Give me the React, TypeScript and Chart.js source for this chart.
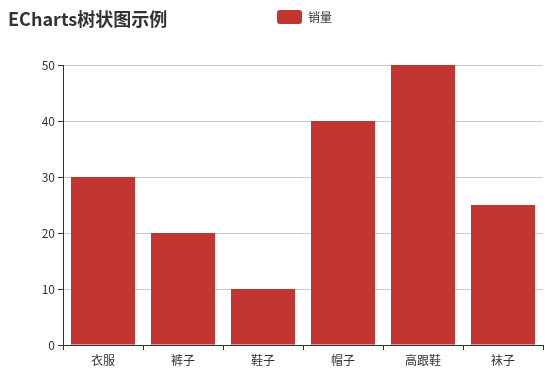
import React, { useEffect, useRef } from "react";
import { Chart, registerables } from "chart.js";

Chart.register(...registerables);

const titleText = "ECharts树状图示例";
const seriesName = "销量";
const categories = ["衣服", "裤子", "鞋子", "帽子", "高跟鞋", "袜子"];
const salesValues = [30, 20, 10, 40, 50, 25];
const yMin = 0;
const yMax = 50;
const yStep = 10;

const FONT = '"Microsoft YaHei", "Noto Sans CJK SC", "Noto Sans", sans-serif';
const BAR_COLOR = "#c23531";
const LEGEND_PAD = 11.5;
const LEGEND_BOX_LEFT = 277;

export default function App() {
  const ref = useRef<HTMLCanvasElement | null>(null);

  useEffect(() => {
    if (!ref.current) return;
    const legendMover = {
      id: "legendMover",
      afterLayout(chart: any) {
        const lg = chart.legend;
        if (!lg || !lg.lineWidths) return;
        const p = LEGEND_PAD;
        const h = lg.bottom - lg.top;
        lg.top = 10 - p;
        lg.bottom = lg.top + h;
        const lw = lg.lineWidths[0];
        const d = (2 * LEGEND_BOX_LEFT - p + lw - (lg.left + lg.right)) / 2;
        lg.left += d;
        lg.right += d;
      },
    };
    const chart = new Chart(ref.current, {
      type: "bar",
      data: {
        labels: categories,
        datasets: [
          {
            label: seriesName,
            data: salesValues,
            backgroundColor: BAR_COLOR,
            borderWidth: 0,
            barPercentage: 0.8,
            categoryPercentage: 1.0,
          },
        ],
      },
      options: {
        responsive: false,
        animation: false,
        devicePixelRatio: 1,
        layout: { padding: { left: 8, right: 9, top: 0, bottom: 0 } },
        plugins: {
          title: {
            display: true,
            text: titleText,
            align: "start",
            position: "top",
            color: "#333",
            font: { family: FONT, size: 18, weight: "bold" },
            padding: { top: 8, bottom: 0 },
          },
          legend: {
            display: true,
            position: "top",
            align: "center",
            labels: {
              boxWidth: 25,
              boxHeight: 14,
              useBorderRadius: true,
              borderRadius: 3,
              padding: LEGEND_PAD,
              color: "#333",
              font: { family: FONT, size: 12 },
            },
          },
          tooltip: { enabled: false },
        },
        scales: {
          x: {
            type: "category",
            offset: true,
            afterFit: (s: any) => {
              s.height = 30;
            },
            grid: {
              display: true,
              drawOnChartArea: false,
              drawTicks: true,
              tickLength: 5,
              offset: true,
              color: "#333",
            },
            border: { display: true, color: "#333" },
            ticks: {
              color: "#333",
              padding: 3,
              font: { family: FONT, size: 12 },
              autoSkip: false,
              maxRotation: 0,
            },
          },
          y: {
            min: yMin,
            max: yMax,
            afterFit: (s: any) => {
              s.width = 55;
            },
            grid: {
              color: "#ccc",
              tickColor: "#333",
              tickLength: 5,
            },
            border: { display: true, color: "#333" },
            ticks: {
              stepSize: yStep,
              color: "#333",
              padding: 3,
              font: { family: FONT, size: 12 },
            },
          },
        },
      },
      plugins: [legendMover],
    });
    return () => chart.destroy();
  }, []);

  return (
    <div style={{ position: "absolute", left: 0, top: 0, width: 552, height: 375 }}>
      <canvas ref={ref} width={552} height={375} style={{ width: 552, height: 375, display: "block" }} />
    </div>
  );
}
